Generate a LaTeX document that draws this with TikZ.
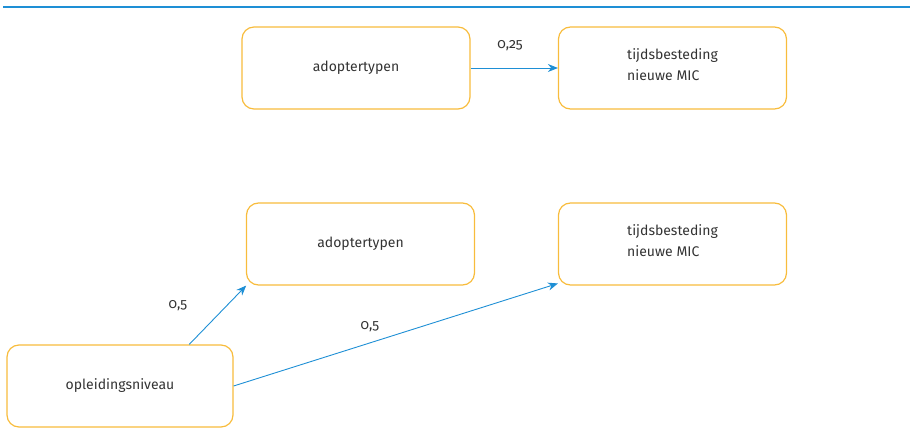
\documentclass[tikz,border=0pt]{standalone}
\usepackage{fontspec}
\setmainfont{Fira Sans}[Numbers=OldStyle]
\usetikzlibrary{arrows.meta}
\definecolor{boxc}{HTML}{F8BC3C}
\definecolor{arrc}{HTML}{1E8FD5}
\definecolor{txtc}{HTML}{333333}
\tikzset{
  box/.style={draw=boxc, line width=1.2pt, rounded corners=12pt, minimum width=228pt, minimum height=82pt, inner sep=0pt, text=txtc, font=\fontsize{14}{21}\selectfont},
  conn/.style={draw=arrc, line width=0.9pt, -{Stealth[length=10pt,width=8pt]}},
  lbl/.style={text=txtc, font=\fontsize{14}{16}\selectfont, inner sep=0pt}
}
\begin{document}
\begin{tikzpicture}[x=1pt,y=-1pt]
\useasboundingbox (0,0) rectangle (910,428);
\coordinate (ls) at (3,7);
\coordinate (le) at (910,7);
\draw[draw=arrc, line width=1.6pt] (ls) -- (le);
\node[box] (a1) at (356,68) {adoptertypen};
\node[box, align=left] (t1) at (672.5,68) {tijdsbesteding\\nieuwe MIC\rule[-6pt]{0pt}{0pt}};
\node[box] (a2) at (360.5,244) {adoptertypen};
\node[box, align=left] (t2) at (672.5,244) {tijdsbesteding\\nieuwe MIC\rule[-6pt]{0pt}{0pt}};
\node[box, minimum width=226pt] (o) at (120,386) {opleidingsniveau};
\draw[conn] (a1.east) -- (t1.west |- a1.east);
\draw[conn] (o.31) -- (a2.200.4);
\draw[conn] (o.east) -- (t2.199);
\node[lbl] (l1) at (510,46) {0,25};
\node[lbl] (l2) at (178,306) {0,5};
\node[lbl] (l3) at (370,327) {0,5};
\end{tikzpicture}
\end{document}
